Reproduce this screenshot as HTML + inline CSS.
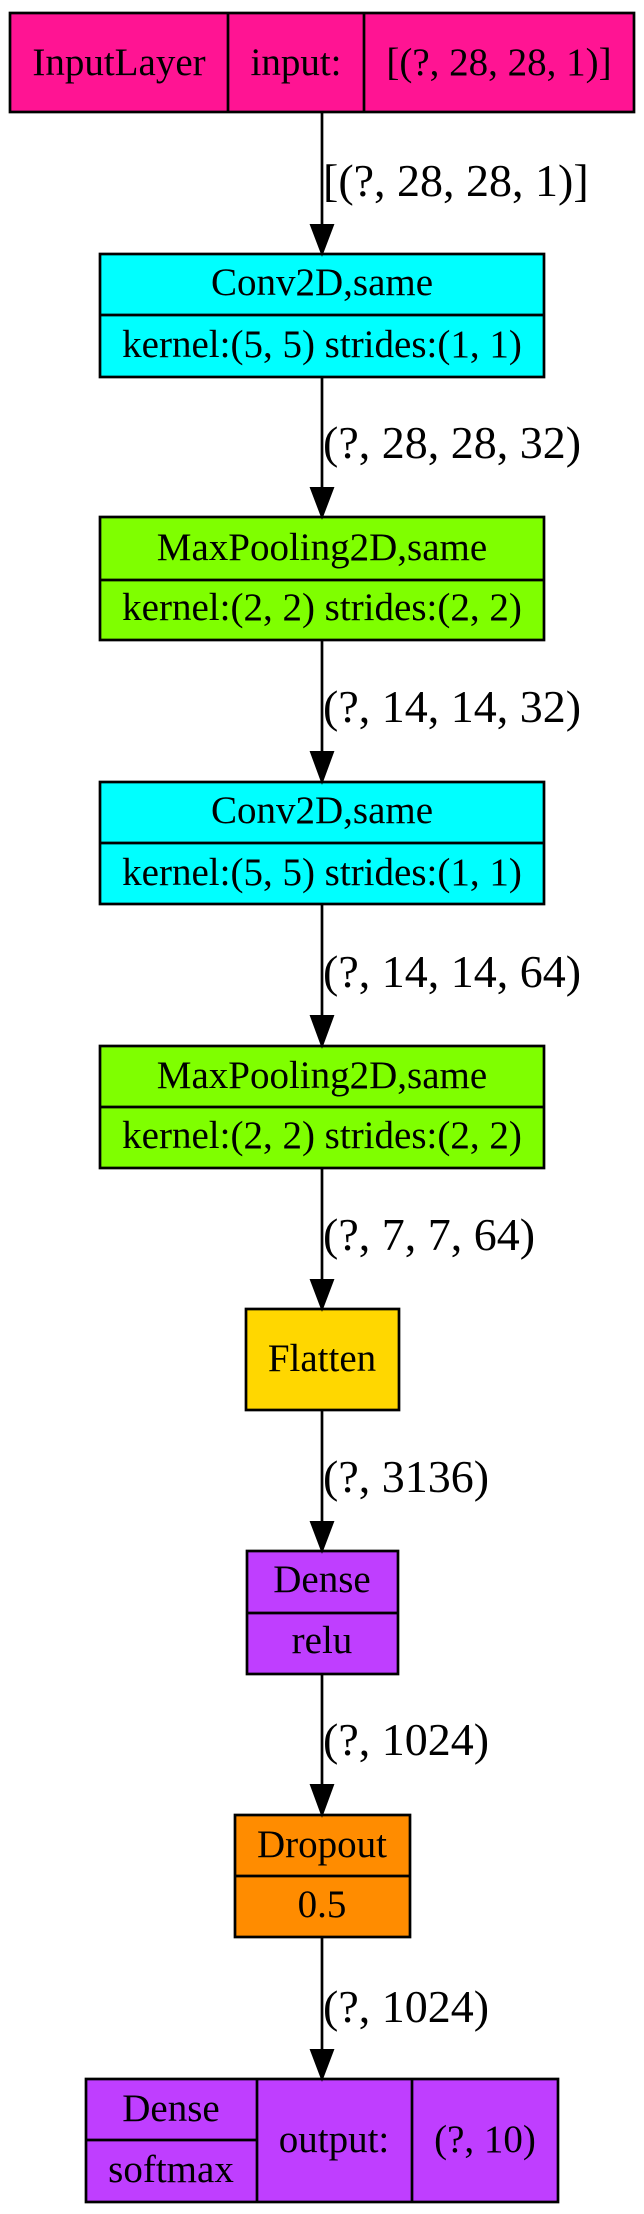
<!DOCTYPE html>
<html><head><meta charset="utf-8"><style>
html,body{margin:0;padding:0;background:#fff;}
svg{display:block;}
text{font-family:"Liberation Serif",serif;font-size:39px;fill:#000;}
.lbl text{font-size:46px;}
</style></head><body>
<svg width="644" height="2214" viewBox="0 0 644 2214" xmlns="http://www.w3.org/2000/svg">
<g stroke="#000" stroke-width="2.7">
<rect x="10" y="13" width="624" height="99" fill="#ff1493"/>
<line x1="228" y1="13" x2="228" y2="112"/>
<line x1="364" y1="13" x2="364" y2="112"/>
<rect x="100" y="254" width="444" height="123" fill="#00ffff"/>
<line x1="100" y1="315" x2="544" y2="315"/>
<rect x="100" y="517" width="444" height="123" fill="#7fff00"/>
<line x1="100" y1="580" x2="544" y2="580"/>
<rect x="100" y="782" width="444" height="122" fill="#00ffff"/>
<line x1="100" y1="843" x2="544" y2="843"/>
<rect x="100" y="1046" width="444" height="122" fill="#7fff00"/>
<line x1="100" y1="1107" x2="544" y2="1107"/>
<rect x="246" y="1309" width="153" height="101" fill="#ffd700"/>
<rect x="247" y="1551" width="151" height="123" fill="#bf3eff"/>
<line x1="247" y1="1613" x2="398" y2="1613"/>
<rect x="235" y="1815" width="175" height="122" fill="#ff8c00"/>
<line x1="235" y1="1876" x2="410" y2="1876"/>
<rect x="86" y="2079" width="472" height="123" fill="#bf3eff"/>
<line x1="257" y1="2079" x2="257" y2="2202"/>
<line x1="412" y1="2079" x2="412" y2="2202"/>
<line x1="86" y1="2140" x2="257" y2="2140"/>
<line x1="322" y1="112" x2="322" y2="226"/>
<line x1="322" y1="377" x2="322" y2="489"/>
<line x1="322" y1="640" x2="322" y2="753"/>
<line x1="322" y1="904" x2="322" y2="1017"/>
<line x1="322" y1="1168" x2="322" y2="1281"/>
<line x1="322" y1="1410" x2="322" y2="1523"/>
<line x1="322" y1="1674" x2="322" y2="1786"/>
<line x1="322" y1="1937" x2="322" y2="2051"/>
</g>
<g fill="#000" stroke="#000" stroke-width="2">
<polygon points="311,225 333,225 322,254"/>
<polygon points="311,488 333,488 322,517"/>
<polygon points="311,752 333,752 322,782"/>
<polygon points="311,1016 333,1016 322,1046"/>
<polygon points="311,1280 333,1280 322,1309"/>
<polygon points="311,1522 333,1522 322,1551"/>
<polygon points="311,1785 333,1785 322,1815"/>
<polygon points="311,2050 333,2050 322,2079"/>
</g>
<g text-anchor="middle">
<text x="119" y="75">InputLayer</text>
<text x="296" y="75">input:</text>
<text x="499" y="75">[(?, 28, 28, 1)]</text>
<text x="322" y="295">Conv2D,same</text>
<text x="322" y="357">kernel:(5, 5) strides:(1, 1)</text>
<text x="322" y="560">MaxPooling2D,same</text>
<text x="322" y="620">kernel:(2, 2) strides:(2, 2)</text>
<text x="322" y="823">Conv2D,same</text>
<text x="322" y="885">kernel:(5, 5) strides:(1, 1)</text>
<text x="322" y="1088">MaxPooling2D,same</text>
<text x="322" y="1148">kernel:(2, 2) strides:(2, 2)</text>
<text x="322" y="1371">Flatten</text>
<text x="322" y="1592">Dense</text>
<text x="322" y="1653">relu</text>
<text x="322" y="1857">Dropout</text>
<text x="322" y="1917">0.5</text>
<text x="171" y="2121">Dense</text>
<text x="171" y="2182">softmax</text>
<text x="334" y="2152">output:</text>
<text x="485" y="2152">(?, 10)</text>
</g>
<g class="lbl">
<text x="323" y="196">[(?, 28, 28, 1)]</text>
<text x="323" y="458">(?, 28, 28, 32)</text>
<text x="323" y="722">(?, 14, 14, 32)</text>
<text x="323" y="987">(?, 14, 14, 64)</text>
<text x="323" y="1250">(?, 7, 7, 64)</text>
<text x="323" y="1492">(?, 3136)</text>
<text x="323" y="1755">(?, 1024)</text>
<text x="323" y="2022">(?, 1024)</text>
</g>
</svg>
</body></html>
